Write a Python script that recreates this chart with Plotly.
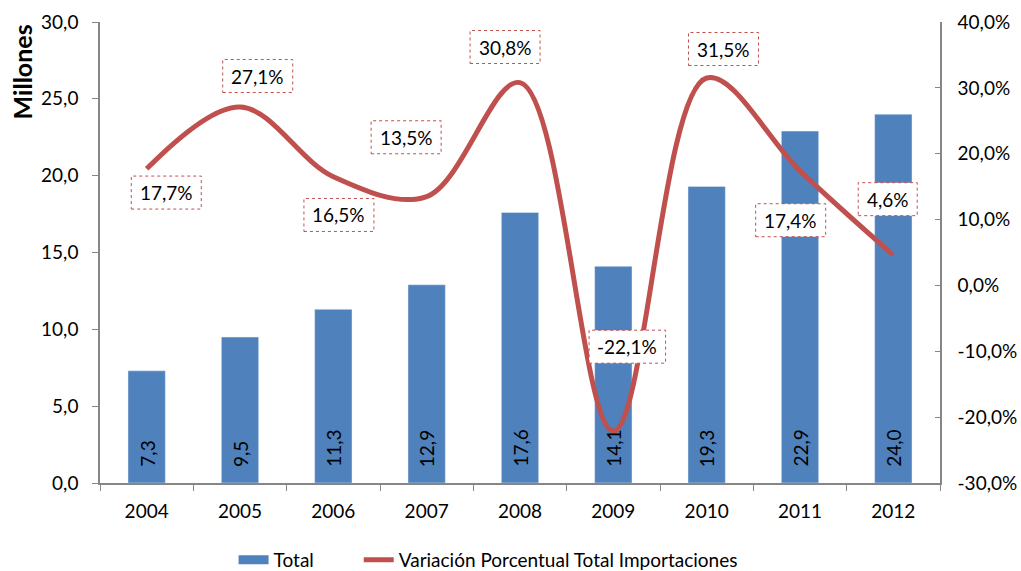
import plotly.graph_objects as go

years = ["2004", "2005", "2006", "2007", "2008", "2009", "2010", "2011", "2012"]
total = [7.3, 9.5, 11.3, 12.9, 17.6, 14.1, 19.3, 22.9, 24.0]
variacion = [17.7, 27.1, 16.5, 13.5, 30.8, -22.1, 31.5, 17.4, 4.6]

y_ticks = [0, 5, 10, 15, 20, 25, 30]
y2_ticks = [-30, -20, -10, 0, 10, 20, 30, 40]

# label box centres (category index, y2 value)
label_x = [0.21, 1.19, 2.06, 2.78, 3.84, 5.15, 6.18, 6.9, 7.94]
label_y = [14.1, 31.8, 10.7, 22.5, 36.2, -9.3, 35.9, 9.9, 13.1]

FONT = "Lato, Open Sans, sans-serif"
BLUE = "#4F81BD"
RED = "#C0504D"
AXIS = "#868686"
FS = 19

def fmt(v, dec=1):
    return f"{v:.{dec}f}".replace(".", ",")

fig = go.Figure()
fig.add_trace(go.Bar(
    x=years, y=total, name="Total", marker_color=BLUE, showlegend=False,
))
# legend proxy for the bars (wide rectangle swatch); drawn under the bars
fig.add_trace(go.Scatter(
    x=years[:1], y=total[:1], name="Total", mode="lines",
    line=dict(color=BLUE, width=9), hoverinfo="skip", legend="legend",
))
fig.add_trace(go.Scatter(
    x=years, y=variacion, name="Variación Porcentual Total Importaciones",
    mode="lines", line=dict(color=RED, width=5, shape="spline", smoothing=1.0),
    yaxis="y2", legend="legend2",
))

shapes = []
annotations = []
for i, v in enumerate(total):
    annotations.append(dict(
        x=i, y=0, xref="x", yref="y", text=fmt(v), textangle=-90,
        showarrow=False, yanchor="bottom", yshift=14,
        font=dict(size=FS, color="black", family=FONT),
    ))

for lx, ly, v in zip(label_x, label_y, variacion):
    txt = fmt(v) + "%"
    w = 0
    for ch in txt:
        w += {"%": 16, ",": 5, "-": 6.5}.get(ch, 11)
    w += 16
    shapes.append(dict(
        type="rect", xref="x", yref="y2", xsizemode="pixel", ysizemode="pixel",
        xanchor=lx, yanchor=ly, x0=-w / 2, x1=w / 2, y0=-16.5, y1=16.5,
        line=dict(color=RED, width=1, dash="dot"), fillcolor="white", layer="above",
    ))
    annotations.append(dict(
        x=lx, y=ly, xref="x", yref="y2", text=txt, showarrow=False,
        font=dict(size=FS, color="black", family=FONT),
    ))

annotations.append(dict(
    x=-0.093, y=1.0, xref="paper", yref="paper", text="<b>Millones</b>",
    textangle=-90, showarrow=False, xanchor="center", yanchor="top",
    font=dict(size=25, color="black", family=FONT),
))

legend_common = dict(orientation="h", xanchor="left", y=-0.167, yanchor="middle",
                     font=dict(size=FS, family=FONT), tracegroupgap=0,
                     bgcolor="rgba(0,0,0,0)")

fig.update_layout(
    width=1021, height=571,
    margin=dict(l=100, r=81, t=22, b=88, autoexpand=False),
    paper_bgcolor="white", plot_bgcolor="white",
    font=dict(family=FONT, size=FS, color="black"),
    bargap=0.6,
    showlegend=True,
    legend=dict(x=0.159, **legend_common),
    legend2=dict(x=0.308, **legend_common),
    xaxis=dict(type="category", range=[-0.5, len(years) - 0.5], tickson="boundaries",
               ticks="outside", ticklen=6,
               tickcolor=AXIS, showline=True, linecolor=AXIS, linewidth=1.5,
               showgrid=False, tickfont=dict(size=FS), ticklabelstandoff=10),
    yaxis=dict(range=[0, 30], tickvals=y_ticks, ticktext=[fmt(v) for v in y_ticks],
               ticks="outside", ticklen=6, tickcolor=AXIS, showline=True,
               linecolor=AXIS, linewidth=1.5, showgrid=False, zeroline=False,
               tickfont=dict(size=FS), ticklabelstandoff=10),
    yaxis2=dict(range=[-30, 40], tickvals=y2_ticks, ticktext=[fmt(v) + "%" for v in y2_ticks],
                overlaying="y", side="right", ticks="inside", ticklen=5, tickcolor=AXIS,
                showline=True, linecolor=AXIS, linewidth=1.5, showgrid=False,
                zeroline=False, tickfont=dict(size=FS), ticklabelstandoff=12),
    shapes=shapes, annotations=annotations,
)

fig.write_html("out.html", config={"displayModeBar": False},
               post_script="document.body.style.margin='0';")
